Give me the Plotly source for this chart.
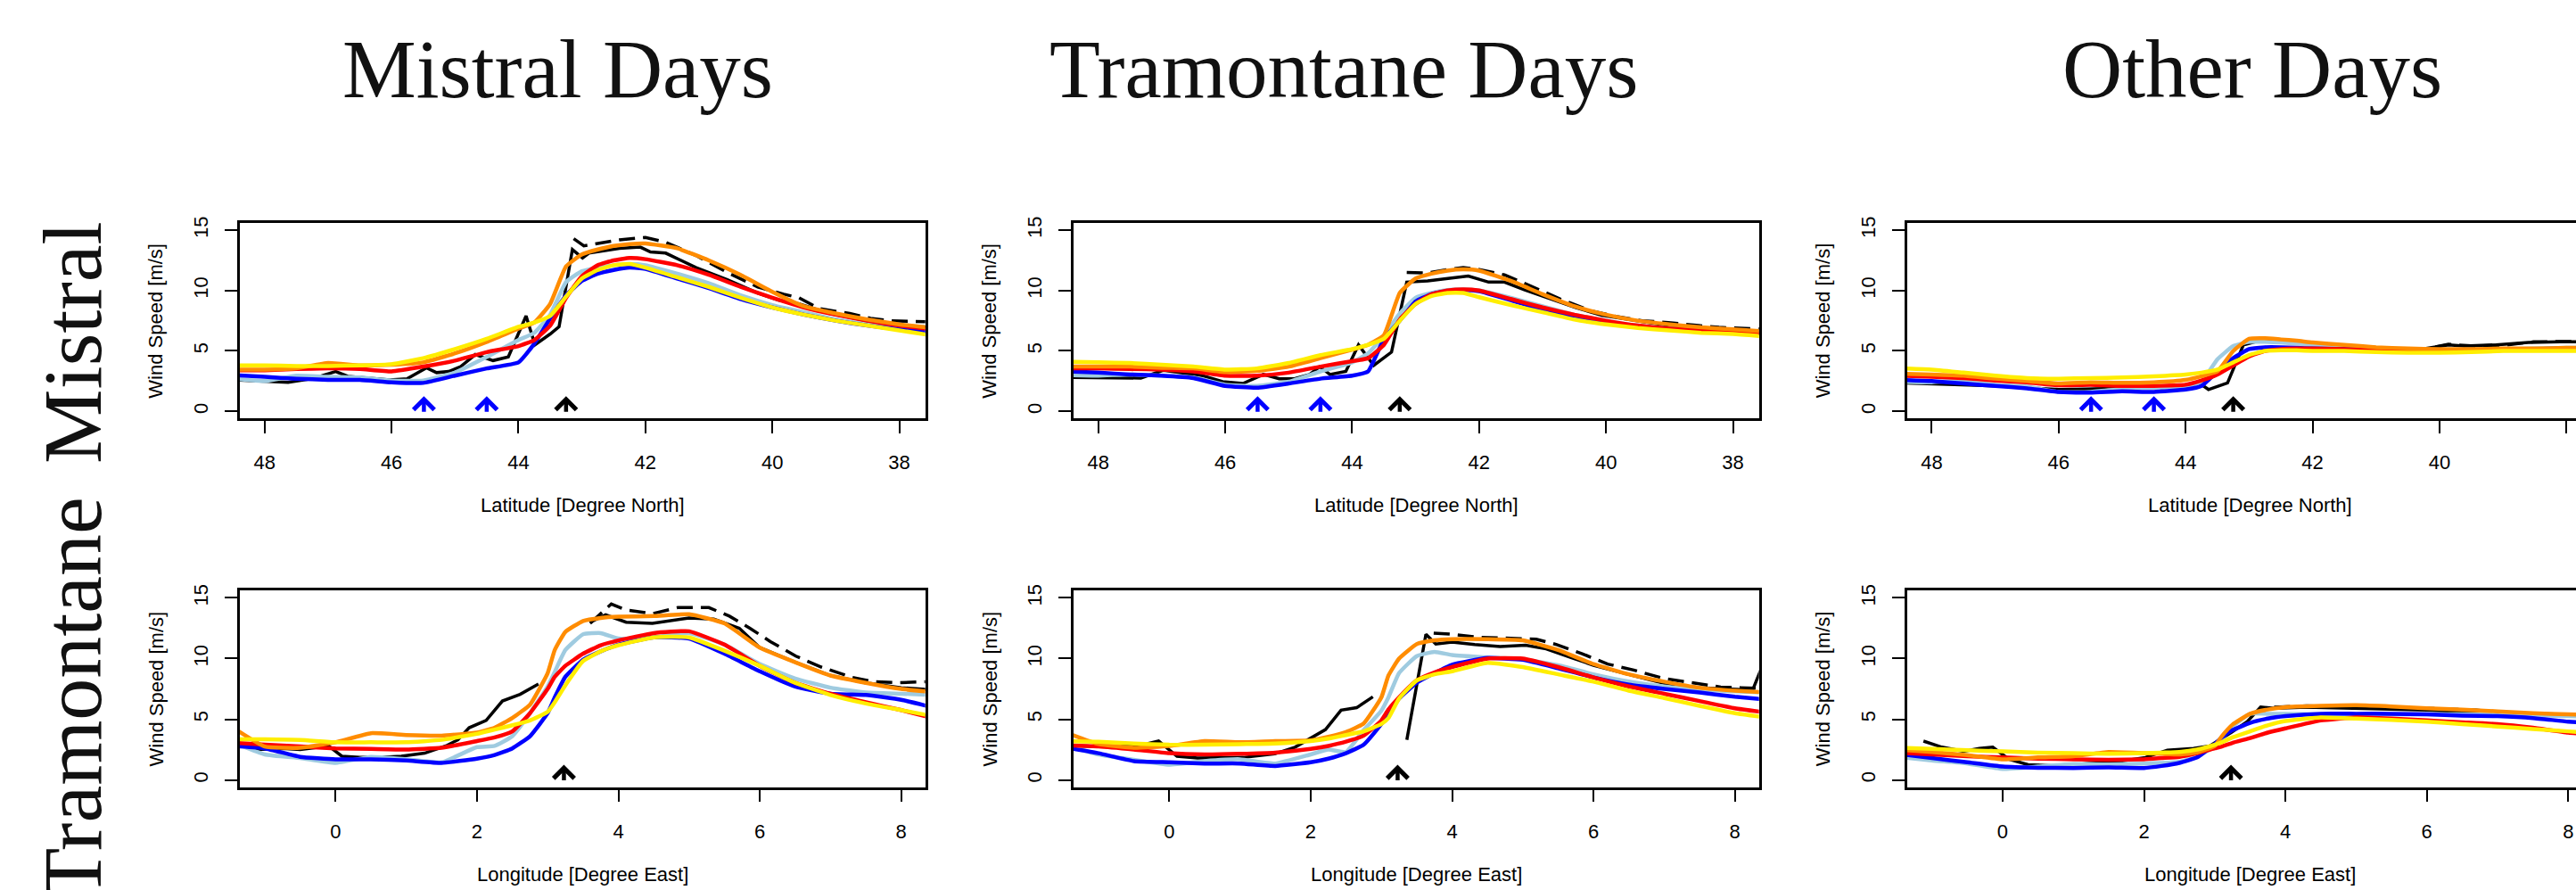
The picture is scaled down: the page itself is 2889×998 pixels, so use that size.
import plotly.graph_objects as go

W, H = 2889, 998

# ---------------- data: latitude transects (top row) ----------------
LAT = [48.5, 48.0, 47.5, 47.0, 46.5, 46.0, 45.5, 45.0, 44.5, 44.0, 43.75, 43.5, 43.25, 43.0,
       42.75, 42.5, 42.25, 42.0, 41.5, 41.0, 40.5, 40.0, 39.5, 39.0, 38.5, 38.0, 37.5]

# Mistral days
A_YELLOW = [3.8, 3.8, 3.75, 3.75, 3.8, 3.9, 4.4, 5.15, 6.0, 7.0, 7.35, 7.9, 9.5, 11.0, 11.7, 12.1, 12.2, 11.9, 11.1, 10.3, 9.4, 8.6, 8.0, 7.5, 7.1, 6.7, 6.3]
A_ORANGE = [3.45, 3.45, 3.55, 4.0, 3.8, 3.85, 4.05, 4.8, 5.75, 6.85, 7.35, 8.9, 12.0, 13.0, 13.4, 13.7, 13.85, 13.9, 13.5, 12.5, 11.3, 9.9, 8.7, 8.1, 7.6, 7.2, 6.9]
A_RED = [3.4, 3.4, 3.5, 3.55, 3.5, 3.3, 3.7, 4.2, 4.9, 5.4, 5.9, 7.1, 9.4, 11.2, 12.1, 12.5, 12.7, 12.6, 12.1, 11.3, 10.3, 9.4, 8.6, 8.0, 7.5, 7.1, 6.8]
A_BLUE = [3.0, 2.85, 2.7, 2.6, 2.6, 2.4, 2.35, 2.95, 3.55, 4.05, 5.6, 7.7, 9.6, 10.8, 11.4, 11.7, 11.9, 11.8, 11.0, 10.2, 9.3, 8.6, 8.0, 7.5, 7.1, 6.8, 6.6]
A_LBLUE = [2.7, 2.5, 2.95, 2.85, 2.8, 2.55, 2.55, 3.2, 4.5, 5.9, 6.5, 8.0, 10.7, 11.6, 11.9, 12.1, 12.2, 12.1, 11.4, 10.6, 9.6, 8.8, 8.2, 7.6, 7.2, 6.9, 6.6]
A_OBS_X = [48.5, 47.63, 47.25, 46.88, 46.69, 46.32, 46.03, 45.75, 45.45, 45.29, 45.1, 44.91, 44.68, 44.4, 44.16, 43.88, 43.74, 43.5, 43.36, 43.15, 42.99, 42.89, 42.41, 42.08, 41.92, 41.68, 41.2, 40.71, 40.23, 39.9, 39.58, 39.1, 38.61, 38.3, 37.97, 37.5]
A_OBS_Y = [2.6, 2.4, 2.7, 3.3, 2.9, 2.7, 2.6, 2.7, 3.6, 3.2, 3.3, 3.7, 4.7, 4.2, 4.5, 7.9, 5.5, 6.4, 7.0, 13.4, 12.7, 13.1, 13.5, 13.6, 13.2, 13.1, 11.9, 10.9, 9.8, 9.2, 8.9, 8.1, 7.6, 7.2, 7.0, 7.0]
A_SAT_X = [43.13, 42.97, 42.41, 42.0, 41.68, 41.2, 40.71, 40.23, 39.82, 39.58, 39.26, 38.78, 38.45, 38.13, 37.5]
A_SAT_Y = [14.3, 13.7, 14.2, 14.4, 14.0, 12.9, 11.5, 10.3, 9.7, 9.4, 8.5, 8.1, 7.7, 7.5, 7.4]

# Tramontane days
B_YELLOW = [4.1, 4.05, 4.0, 3.85, 3.7, 3.45, 3.55, 4.0, 4.65, 5.15, 5.5, 6.0, 7.5, 8.9, 9.55, 9.8, 9.8, 9.45, 8.8, 8.2, 7.6, 7.2, 6.9, 6.7, 6.5, 6.4, 6.2]
B_ORANGE = [3.7, 3.7, 3.7, 3.6, 3.55, 3.25, 3.35, 3.7, 4.4, 5.1, 5.5, 6.3, 9.8, 11.0, 11.4, 11.65, 11.75, 11.65, 10.8, 9.7, 8.7, 8.0, 7.5, 7.2, 6.95, 6.8, 6.6]
B_RED = [3.55, 3.55, 3.5, 3.45, 3.3, 2.95, 2.95, 3.2, 3.7, 4.15, 4.4, 5.5, 7.6, 8.9, 9.7, 10.0, 10.1, 10.0, 9.3, 8.6, 8.0, 7.5, 7.1, 6.85, 6.7, 6.55, 6.45]
B_BLUE = [3.3, 3.2, 3.05, 2.95, 2.75, 2.1, 1.95, 2.3, 2.7, 2.95, 3.3, 6.0, 7.5, 9.1, 9.7, 9.95, 10.05, 9.95, 9.2, 8.4, 7.8, 7.3, 7.0, 6.8, 6.65, 6.55, 6.45]
B_LBLUE = [3.0, 2.95, 3.05, 2.95, 2.8, 2.2, 2.1, 2.45, 3.3, 4.05, 4.8, 6.25, 8.1, 9.4, 9.8, 10.05, 10.1, 10.0, 9.4, 8.7, 8.0, 7.5, 7.1, 6.85, 6.7, 6.55, 6.45]
B_OBS_X = [48.5, 47.73, 47.33, 46.97, 46.69, 46.36, 46.04, 45.72, 45.4, 45.15, 44.91, 44.67, 44.51, 44.35, 44.1, 43.9, 43.66, 43.38, 43.14, 42.81, 42.49, 42.17, 41.85, 41.6, 41.28, 40.88, 40.48, 40.07, 39.67, 39.27, 38.86, 38.46, 37.9, 37.5]
B_OBS_Y = [2.8, 2.75, 2.75, 3.4, 3.2, 2.95, 2.45, 2.3, 3.05, 2.7, 2.7, 3.05, 3.7, 3.05, 3.3, 5.5, 3.8, 4.9, 10.7, 10.8, 11.0, 11.2, 10.7, 10.7, 10.05, 9.3, 8.6, 7.95, 7.6, 7.3, 7.0, 6.8, 6.6, 6.5]
B_SAT_X = [43.14, 42.81, 42.49, 42.25, 42.0, 41.6, 41.2, 40.72, 40.23, 39.83, 39.43, 39.02, 38.54, 38.22, 37.5]
B_SAT_Y = [11.5, 11.45, 11.75, 11.9, 11.75, 11.3, 10.4, 9.3, 8.3, 7.85, 7.5, 7.35, 7.1, 6.95, 6.8]

# Other days
C_YELLOW = [3.55, 3.45, 3.2, 2.95, 2.75, 2.7, 2.75, 2.8, 2.9, 3.05, 3.2, 3.45, 4.05, 4.65, 5.0, 5.05, 5.05, 5.0, 5.0, 4.9, 4.85, 4.85, 4.9, 5.0, 5.0, 5.0, 5.0]
C_ORANGE = [3.1, 3.05, 2.95, 2.7, 2.5, 2.3, 2.4, 2.35, 2.4, 2.6, 2.9, 3.3, 5.0, 6.0, 6.05, 5.95, 5.85, 5.7, 5.5, 5.3, 5.2, 5.15, 5.15, 5.2, 5.2, 5.25, 5.25]
C_RED = [2.95, 2.85, 2.75, 2.55, 2.4, 2.15, 2.2, 2.1, 2.1, 2.2, 2.55, 3.05, 3.8, 4.55, 5.0, 5.15, 5.2, 5.2, 5.15, 5.1, 5.0, 5.0, 5.0, 5.05, 5.1, 5.15, 5.15]
C_BLUE = [2.6, 2.5, 2.3, 2.1, 1.9, 1.6, 1.55, 1.65, 1.6, 1.8, 2.1, 3.3, 4.4, 5.15, 5.3, 5.3, 5.25, 5.2, 5.15, 5.1, 5.0, 5.0, 5.05, 5.1, 5.15, 5.2, 5.2]
C_LBLUE = [2.45, 2.4, 2.55, 2.2, 2.05, 1.6, 1.6, 1.85, 1.95, 2.1, 2.45, 4.3, 5.4, 5.75, 5.75, 5.7, 5.6, 5.5, 5.4, 5.2, 5.15, 5.05, 5.1, 5.15, 5.2, 5.25, 5.25]
C_OBS_X = [48.5, 47.66, 46.99, 46.32, 46.0, 45.57, 45.15, 44.64, 44.39, 43.97, 43.79, 43.64, 43.34, 43.09, 42.8, 42.46, 41.96, 41.37, 40.79, 40.28, 39.86, 39.61, 39.11, 38.6, 38.1, 37.5]
C_OBS_Y = [2.35, 2.2, 2.1, 1.9, 1.8, 1.85, 1.9, 2.3, 1.95, 2.1, 2.35, 1.8, 2.35, 5.5, 5.9, 5.75, 5.5, 5.3, 5.2, 5.15, 5.5, 5.4, 5.5, 5.7, 5.75, 5.75]
C_SAT_X = [43.09, 42.63, 41.96, 41.37, 40.79, 40.2, 39.86, 39.44, 38.94, 38.52, 38.0, 37.5]
C_SAT_Y = [5.75, 5.9, 5.65, 5.4, 5.2, 5.2, 5.55, 5.4, 5.5, 5.75, 5.8, 5.8]

# ---------------- data: longitude transects (bottom row) ----------------
LON = [-1.5, -1.0, -0.5, 0.0, 0.5, 1.0, 1.5, 2.0, 2.25, 2.5, 2.75, 3.0, 3.1, 3.25, 3.5,
       3.75, 4.0, 4.5, 5.0, 5.5, 6.0, 6.5, 7.0, 7.5, 8.0, 8.5]

D_YELLOW = [3.35, 3.35, 3.3, 3.1, 3.1, 3.1, 3.3, 3.8, 4.15, 4.5, 4.9, 5.6, 6.4, 7.8, 9.8, 10.6, 11.1, 11.75, 11.75, 10.65, 9.4, 8.0, 7.0, 6.3, 5.75, 5.2]
D_ORANGE = [4.5, 2.75, 2.65, 3.1, 3.85, 3.7, 3.65, 3.9, 4.3, 5.1, 6.2, 8.8, 10.7, 12.2, 13.1, 13.35, 13.45, 13.5, 13.65, 12.9, 10.9, 9.7, 8.6, 8.0, 7.5, 7.2]
D_RED = [3.1, 2.9, 2.75, 2.6, 2.55, 2.5, 2.65, 3.2, 3.5, 4.0, 5.5, 7.5, 8.5, 9.4, 10.4, 11.1, 11.5, 12.1, 12.25, 11.15, 9.4, 8.0, 7.1, 6.4, 5.75, 5.0]
D_BLUE = [2.8, 2.6, 1.9, 1.7, 1.7, 1.6, 1.4, 1.75, 2.05, 2.6, 3.6, 5.5, 6.8, 8.5, 9.9, 10.6, 11.15, 11.75, 11.65, 10.4, 8.95, 7.7, 7.1, 7.0, 6.6, 5.9]
D_LBLUE = [3.2, 2.1, 1.8, 1.4, 1.9, 1.7, 1.45, 2.7, 2.8, 3.6, 5.5, 7.7, 8.9, 10.7, 12.0, 12.1, 11.65, 11.75, 12.1, 11.15, 9.55, 8.35, 7.6, 7.2, 7.1, 7.0]
D_OBS_X = [-1.5, -1.35, -1.09, -0.75, -0.5, -0.25, -0.1, 0.09, 0.34, 0.63, 0.93, 1.26, 1.56, 1.73, 1.89, 2.13, 2.36, 2.61, 2.87, None, 3.6, 3.82, 4.11, 4.48, 5.0, 5.35, 5.71, 6.0, 6.5, 7.0, 7.5, 8.0, 8.5]
D_OBS_Y = [3.0, 2.95, 2.5, 2.6, 2.5, 2.7, 2.8, 1.95, 1.85, 1.85, 1.95, 2.2, 2.8, 3.3, 4.3, 4.9, 6.5, 7.05, 7.9, None, 13.0, 13.6, 13.0, 12.9, 13.35, 13.25, 12.5, 10.9, 9.7, 8.6, 8.0, 7.6, 7.4]
D_SAT_X = [3.6, 3.9, 4.11, 4.48, 4.84, 5.28, 5.57, 5.86, 6.15, 6.51, 6.87, 7.31, 7.6, 7.96, 8.37, 8.5]
D_SAT_Y = [12.9, 14.5, 14.0, 13.7, 14.2, 14.2, 13.5, 12.5, 11.4, 10.2, 9.3, 8.45, 8.1, 8.0, 8.1, 8.1]

E_YELLOW = [3.2, 3.15, 3.0, 2.9, 2.9, 2.95, 3.0, 3.2, 3.4, 3.7, 4.0, 4.6, 5.1, 6.7, 8.2, 8.7, 8.95, 9.65, 9.3, 8.7, 8.1, 7.35, 6.75, 6.1, 5.5, 5.1]
E_ORANGE = [4.0, 2.95, 2.65, 2.8, 3.2, 3.1, 3.2, 3.25, 3.55, 3.95, 4.65, 6.8, 8.6, 10.0, 11.2, 11.5, 11.6, 11.6, 11.5, 10.7, 9.55, 8.7, 8.1, 7.6, 7.35, 7.2]
E_RED = [2.85, 2.75, 2.5, 2.2, 2.1, 2.15, 2.25, 2.55, 2.8, 3.15, 3.65, 4.9, 5.8, 6.8, 8.2, 8.85, 9.3, 10.0, 10.0, 9.3, 8.45, 7.7, 7.1, 6.5, 5.9, 5.5]
E_BLUE = [2.7, 2.2, 1.55, 1.45, 1.35, 1.35, 1.15, 1.45, 1.75, 2.2, 2.9, 4.6, 5.4, 6.7, 8.0, 8.8, 9.5, 10.05, 9.9, 9.2, 8.45, 7.85, 7.5, 7.2, 6.85, 6.6]
E_LBLUE = [2.9, 2.1, 1.65, 1.25, 1.55, 1.7, 1.35, 2.1, 2.5, 2.3, 4.1, 5.7, 6.8, 8.8, 10.2, 10.55, 10.3, 10.1, 9.95, 9.45, 8.7, 8.1, 7.7, 7.45, 7.3, 7.2]
E_OBS_X = [-1.5, -0.76, -0.4, -0.15, 0.11, 0.4, 1.05, 1.49, 1.78, 2.0, 2.21, 2.43, 2.65, 2.88, None, 3.36, 3.63, 3.77, 4.0, 4.32, 4.68, 5.04, 5.33, 5.7, 6.0, 6.49, 7.0, 7.51, 8.02, 8.25, 8.45]
E_OBS_Y = [2.8, 2.75, 2.85, 3.2, 1.95, 1.8, 1.85, 2.15, 2.7, 3.45, 4.15, 5.75, 5.95, 6.85, None, 3.3, 12.0, 11.2, 11.35, 11.15, 11.0, 11.1, 10.8, 10.05, 9.45, 8.7, 7.95, 7.6, 7.45, 7.4, 10.3]
E_SAT_X = [3.74, 4.0, 4.39, 4.83, 5.19, 5.48, 5.84, 6.2, 6.57, 7.0, 7.44, 7.8, 8.08, 8.5]
E_SAT_Y = [12.1, 12.0, 11.75, 11.7, 11.6, 11.15, 10.4, 9.55, 9.05, 8.35, 7.95, 7.65, 7.6, 7.5]

F_YELLOW = [2.65, 2.55, 2.45, 2.35, 2.25, 2.2, 2.15, 2.2, 2.25, 2.3, 2.5, 2.9, 3.1, 3.5, 4.0, 4.5, 4.85, 5.15, 5.05, 4.95, 4.8, 4.6, 4.4, 4.2, 4.0, 3.8]
F_ORANGE = [2.5, 2.3, 2.05, 1.7, 1.85, 1.95, 2.3, 2.2, 2.15, 2.1, 2.25, 2.8, 3.6, 4.55, 5.45, 5.8, 6.0, 6.1, 6.15, 6.05, 5.9, 5.8, 5.65, 5.5, 5.4, 5.35]
F_RED = [2.25, 2.1, 1.95, 1.85, 1.75, 1.7, 1.65, 1.7, 1.8, 1.9, 2.2, 2.6, 2.75, 3.05, 3.45, 3.9, 4.25, 4.9, 5.15, 5.05, 4.9, 4.75, 4.6, 4.3, 3.9, 3.7]
F_BLUE = [2.15, 1.8, 1.45, 1.1, 1.0, 0.98, 1.03, 0.98, 1.15, 1.4, 1.85, 2.95, 3.5, 4.1, 4.7, 5.05, 5.25, 5.45, 5.45, 5.45, 5.4, 5.3, 5.25, 5.1, 4.8, 4.6]
F_LBLUE = [1.9, 1.6, 1.35, 0.9, 1.1, 1.3, 1.27, 1.35, 1.4, 1.5, 1.9, 2.8, 3.4, 4.4, 5.45, 5.45, 5.45, 5.4, 5.4, 5.4, 5.4, 5.4, 5.4, 5.35, 5.25, 5.2]
F_OBS_X = [-1.12, -0.86, -0.55, -0.33, -0.14, 0.09, 0.36, 0.81, 1.19, 1.57, 2.02, 2.33, 2.7, 2.93, 3.23, 3.46, 3.65, 3.84, 4.3, 4.98, 6.0, 7.02, 8.0, 8.5]
F_OBS_Y = [3.2, 2.7, 2.35, 2.6, 2.7, 1.7, 1.25, 1.15, 1.35, 1.45, 1.85, 2.45, 2.6, 2.8, 3.9, 4.8, 6.0, 5.9, 6.0, 5.9, 5.75, 5.5, 5.3, 5.2]
F_SAT_X = [3.84, 4.3, 4.98, 5.5, 6.0, 6.7, 7.23, 8.0, 8.5]
F_SAT_Y = [6.0, 6.1, 6.0, 5.95, 5.9, 5.75, 5.5, 5.4, 5.35]

# arrows marking locations
BLUE_ARROW_LAT = [45.49, 44.50]
BLACK_ARROW_LAT = [43.25]
BLACK_ARROW_LON = [3.23]
ARROW_Y = [-0.15, 1.25]

COL_TITLES = ["Mistral Days", "Tramontane Days", "Other Days"]
ROW_TITLES = ["Mistral", "Tramontane"]
X_TITLES = ["Latitude [Degree North]", "Longitude [Degree East]"]
Y_TITLE = "Wind Speed [m/s]"
LAT_TICKS = [48, 46, 44, 42, 40, 38]
LON_TICKS = [0, 2, 4, 6, 8]
Y_TICKS = [0, 5, 10, 15]

# ---------------- styling / layout ----------------
CLR_YEL, CLR_ORA, CLR_RED, CLR_BLU, CLR_LBL = "#FFEE00", "#FF8C00", "#FF0000", "#0000FF", "#9FCBE0"
SANS = "Liberation Sans, Arial, Helvetica, sans-serif"
SERIF = "Liberation Serif, Times New Roman, serif"

COL_PX = [(269, 1037.7), (1204, 1972.7), (2138.7, 2889)]
BOX_W = 768.7
ROW_PX = [(250, 469.3), (662.3, 882.7)]
XRANGES = [[[48.39, 37.59], [48.39, 37.59], [48.39, 37.85]],
           [[-1.353, 8.34], [-1.353, 8.34], [-1.353, 8.11]]]
TITLE_CX = [625, 1507, 2526]

panels = [
    (LAT, [A_LBLUE, A_BLUE, A_RED, A_ORANGE, A_YELLOW], (A_OBS_X, A_OBS_Y), (A_SAT_X, A_SAT_Y)),
    (LAT, [B_LBLUE, B_BLUE, B_RED, B_ORANGE, B_YELLOW], (B_OBS_X, B_OBS_Y), (B_SAT_X, B_SAT_Y)),
    (LAT, [C_LBLUE, C_BLUE, C_RED, C_ORANGE, C_YELLOW], (C_OBS_X, C_OBS_Y), (C_SAT_X, C_SAT_Y)),
    (LON, [D_LBLUE, D_BLUE, D_RED, D_ORANGE, D_YELLOW], (D_OBS_X, D_OBS_Y), (D_SAT_X, D_SAT_Y)),
    (LON, [E_LBLUE, E_BLUE, E_RED, E_ORANGE, E_YELLOW], (E_OBS_X, E_OBS_Y), (E_SAT_X, E_SAT_Y)),
    (LON, [F_LBLUE, F_BLUE, F_RED, F_ORANGE, F_YELLOW], (F_OBS_X, F_OBS_Y), (F_SAT_X, F_SAT_Y)),
]
line_colors = [CLR_LBL, CLR_BLU, CLR_RED, CLR_ORA, CLR_YEL]

fig = go.Figure()
layout = dict(width=W, height=H, margin=dict(l=0, r=0, t=0, b=0), autosize=False,
              paper_bgcolor="white", plot_bgcolor="white", showlegend=False,
              template="none")
annotations = []


def px_x(p):
    return p / W


def px_y(p):
    return 1 - p / H


for i, (xgrid, series, obs, sat) in enumerate(panels):
    r, c = divmod(i, 3)
    n = i + 1
    xa, ya = f"x{n}", f"y{n}"
    fig.add_trace(go.Scatter(x=obs[0], y=obs[1], mode="lines", xaxis=xa, yaxis=ya,
                             line=dict(color="black", width=3.5), connectgaps=False))
    fig.add_trace(go.Scatter(x=sat[0], y=sat[1], mode="lines", xaxis=xa, yaxis=ya,
                             line=dict(color="black", width=3.5, dash="18px,9px")))
    for vals, col in zip(series, line_colors):
        fig.add_trace(go.Scatter(x=xgrid, y=vals, mode="lines", xaxis=xa, yaxis=ya,
                                 line=dict(color=col, width=4.5, shape="spline", smoothing=0.4)))
    x0, x1 = COL_PX[c]
    y0, y1 = ROW_PX[r]
    layout[f"xaxis{n}"] = dict(
        domain=[px_x(x0), px_x(x1)], anchor=ya, range=XRANGES[r][c],
        tickmode="array", tickvals=LAT_TICKS if r == 0 else LON_TICKS,
        ticks="outside", ticklen=14, tickwidth=2, tickcolor="black",
        showline=True, linecolor="black", linewidth=2.5, mirror=True,
        showgrid=False, zeroline=False, ticklabelstandoff=14,
        tickfont=dict(family=SANS, size=22, color="black"))
    layout[f"yaxis{n}"] = dict(
        domain=[px_y(y1), px_y(y0)], anchor=xa, range=[-0.6, 15.6],
        tickmode="array", tickvals=Y_TICKS, tickangle=-90,
        ticks="outside", ticklen=14, tickwidth=2, tickcolor="black",
        showline=True, linecolor="black", linewidth=2.5, mirror=(c < 2),
        showgrid=False, zeroline=False, ticklabelstandoff=10,
        tickfont=dict(family=SANS, size=22, color="black"))
    annotations.append(dict(text=X_TITLES[r], xref="paper", yref="paper",
                            x=px_x(x0 + BOX_W / 2), y=px_y(y1 + 97.4),
                            xanchor="center", yanchor="middle", showarrow=False,
                            font=dict(family=SANS, size=22, color="black")))
    annotations.append(dict(text=Y_TITLE, xref="paper", yref="paper", textangle=-90,
                            x=px_x(x0 - 94), y=px_y((y0 + y1) / 2),
                            xanchor="center", yanchor="middle", showarrow=False,
                            font=dict(family=SANS, size=22, color="black")))
    arrows = []
    if r == 0:
        arrows += [(v, CLR_BLU) for v in BLUE_ARROW_LAT]
        arrows += [(v, "black") for v in BLACK_ARROW_LAT]
    else:
        arrows += [(v, "black") for v in BLACK_ARROW_LON]
    for v, col in arrows:
        annotations.append(dict(text="", x=v, y=ARROW_Y[1], ax=v, ay=ARROW_Y[0],
                                xref=xa, yref=ya, axref=xa, ayref=ya, showarrow=True,
                                arrowhead=4, arrowsize=1.0, arrowwidth=4.5, arrowcolor=col,
                                standoff=0, startstandoff=0))

for cx, t in zip(TITLE_CX, COL_TITLES):
    annotations.append(dict(text=t, xref="paper", yref="paper", x=px_x(cx), y=px_y(77),
                            xanchor="center", yanchor="middle", showarrow=False,
                            font=dict(family=SERIF, size=93, color="#111111")))
for cy, t in zip([384, 783], ROW_TITLES):
    annotations.append(dict(text=t, xref="paper", yref="paper", x=px_x(81), y=px_y(cy),
                            textangle=-90, xanchor="center", yanchor="middle", showarrow=False,
                            font=dict(family=SERIF, size=94, color="#111111")))

layout["annotations"] = annotations
fig.update_layout(**layout)
fig.write_html("out.html")
